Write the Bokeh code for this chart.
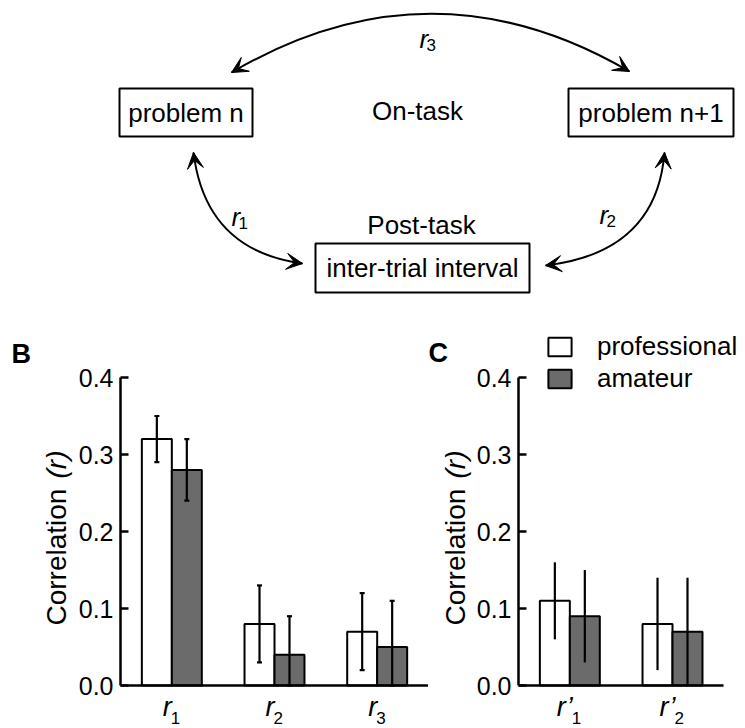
import math
from bokeh.plotting import figure
from bokeh.layouts import column, row
from bokeh.models import (Range1d, FixedTicker, NumeralTickFormatter,
                          Label, Legend, LegendItem, Arrow, VeeHead, ColumnDataSource)
from bokeh.transform import dodge
from bokeh.core.properties import value
from bokeh.embed import file_html
from bokeh.resources import INLINE

FONT = "Liberation Sans"

# ---------------- data ----------------
series_names = ["professional", "amateur"]
y_ticks = [0.0, 0.1, 0.2, 0.3, 0.4]

b_cats = ["r1", "r2", "r3"]
b_tick_base = ["r", "r", "r"]
b_tick_sub = ["1", "2", "3"]
b_prof = [0.32, 0.08, 0.07]
b_prof_lo = [0.29, 0.03, 0.02]
b_prof_hi = [0.35, 0.13, 0.12]
b_amat = [0.28, 0.04, 0.05]
b_amat_lo = [0.24, 0.00, 0.00]
b_amat_hi = [0.32, 0.09, 0.11]

c_cats = ["r'1", "r'2"]
c_tick_base = ["r\u2019", "r\u2019"]
c_tick_sub = ["1", "2"]
c_prof = [0.11, 0.08]
c_prof_lo = [0.06, 0.02]
c_prof_hi = [0.16, 0.14]
c_amat = [0.09, 0.07]
c_amat_lo = [0.03, 0.00]
c_amat_hi = [0.15, 0.14]

# diagram content
box_labels = ["problem n", "problem n+1", "inter-trial interval"]
phase_labels = ["On-task", "Post-task"]
link_base = ["r", "r", "r"]
link_sub = ["1", "2", "3"]

PROF_COLOR = "white"
AMAT_COLOR = "#6b6b6b"
BAR_W = 0.292
Y_LO, Y_HI = -0.0558, 0.5   # visible y span of the lower panels
PX = 770.0                  # pixels per correlation unit (layout only)


def ypos(canvas_y):
    """canvas pixel row (lower panels) -> data y, layout helper for labels"""
    return Y_HI - (canvas_y - 300) / PX


def panel(cats, prof, plo, phi, amat, alo, ahi, width, x_start, caps,
          letter, letter_x, letter_mid, ylab_x, tick_base, tick_sub, sub_dx,
          legend=False):
    n = len(cats)
    x_end = x_start + width / 102.67
    p = figure(width=width, height=428,
               x_range=Range1d(x_start, x_end), y_range=Range1d(Y_LO, Y_HI),
               output_backend="svg", toolbar_location=None, min_border=0)
    p.grid.visible = False
    p.outline_line_color = None
    xa_ = p.xaxis[0]
    xa_.fixed_location = 0
    xa_.bounds = (-0.5, n - 0.5)
    xa_.ticker = FixedTicker(ticks=[], minor_ticks=[])
    xa_.axis_line_width = 2.5
    xa_.axis_line_color = "black"
    xa_.major_tick_line_color = None
    xa_.minor_tick_line_color = None
    xa_.major_label_text_color = None
    ya = p.yaxis[0]
    ya.fixed_location = -0.5
    ya.bounds = (0, 0.4)
    ya.ticker = FixedTicker(ticks=y_ticks, minor_ticks=[])
    ya.formatter = NumeralTickFormatter(format="0.0")
    ya.axis_line_width = 2.5
    ya.axis_line_color = "black"
    ya.major_tick_line_width = 2.5
    ya.major_tick_line_color = "black"
    ya.major_tick_in = 8
    ya.major_tick_out = 0
    ya.minor_tick_line_color = None
    ya.major_label_standoff = 7
    ya.major_label_text_font = FONT
    ya.major_label_text_font_size = "25px"
    ya.major_label_text_color = "black"

    src = ColumnDataSource(dict(idx=list(range(n)), cat=cats, prof=prof, plo=plo,
                                phi=phi, amat=amat, alo=alo, ahi=ahi))
    xp = dodge("idx", -BAR_W / 2)
    xa = dodge("idx", BAR_W / 2)
    rp = p.vbar(x=xp, top="prof", bottom=0, width=BAR_W, source=src,
                fill_color=PROF_COLOR, line_color="black", line_width=2)
    ra = p.vbar(x=xa, top="amat", bottom=0, width=BAR_W, source=src,
                fill_color=AMAT_COLOR, line_color="black", line_width=2)
    for xx, lo, hi in ((xp, "plo", "phi"), (xa, "alo", "ahi")):
        p.segment(x0=xx, y0=lo, x1=xx, y1=hi, source=src,
                  line_color="black", line_width=2.2)
        if caps:
            p.scatter(x=xx, y=hi, source=src, marker="dash", size=5,
                      line_color="black", line_width=2.2)
            p.scatter(x=xx, y=lo, source=src, marker="dash", size=5,
                      line_color="black", line_width=2.2)
    # y axis label (upright word, italic symbol)
    p.add_layout(Label(x=ylab_x, y=ypos(625), x_units="screen", y_units="data",
                       text="Correlation", angle=math.pi / 2,
                       text_align="left", text_baseline="middle",
                       text_font=FONT, text_font_size="28px", text_color="black"))
    p.add_layout(Label(x=ylab_x, y=ypos(450), x_units="screen", y_units="data",
                       text="(r)", angle=math.pi / 2, text_font_style="italic",
                       text_align="right", text_baseline="middle",
                       text_font=FONT, text_font_size="28px", text_color="black"))
    # x tick labels with subscripts
    for i, (b, s) in enumerate(zip(tick_base, tick_sub)):
        p.add_layout(Label(x=i, y=ypos(706.5), x_offset=sub_dx,
                           text=b, text_font_style="italic",
                           text_align="right", text_baseline="middle",
                           text_font=FONT, text_font_size="27px", text_color="black"))
        p.add_layout(Label(x=i, y=ypos(717), x_offset=sub_dx - 1,
                           text=s, text_align="left", text_baseline="middle",
                           text_font=FONT, text_font_size="17px", text_color="black"))
    # panel letter
    p.add_layout(Label(x=letter_x, y=ypos(letter_mid), x_units="screen", y_units="data",
                       text=letter, text_font_style="bold",
                       text_align="left", text_baseline="middle",
                       text_font=FONT, text_font_size="27px", text_color="black"))
    if legend:
        lg = Legend(items=[LegendItem(label=series_names[0], renderers=[rp]),
                           LegendItem(label=series_names[1], renderers=[ra])],
                    location=(117, 334), glyph_width=29, glyph_height=23,
                    label_height=23, spacing=1, padding=0, margin=0,
                    label_standoff=23, border_line_color=None,
                    background_fill_alpha=0,
                    label_text_font=FONT, label_text_font_size="26px",
                    label_text_color="black", label_text_baseline="middle")
        p.add_layout(lg, "center")
    return p


pb = panel(b_cats, b_prof, b_prof_lo, b_prof_hi, b_amat, b_amat_lo, b_amat_hi,
           width=428, x_start=-0.5 - 120 / 102.67, caps=True, letter="B", letter_x=11,
           letter_mid=353.5, ylab_x=56, tick_base=b_tick_base, tick_sub=b_tick_sub,
           sub_dx=0)
pc = panel(c_cats, c_prof, c_prof_lo, c_prof_hi, c_amat, c_amat_lo, c_amat_hi,
           width=317, x_start=-0.5 - 90 / 102.67, caps=False, letter="C", letter_x=0,
           letter_mid=352.5, ylab_x=27, tick_base=c_tick_base, tick_sub=c_tick_sub,
           sub_dx=3, legend=True)

# ---------------- diagram (A) ----------------
d = figure(width=745, height=300, x_range=Range1d(0, 745), y_range=Range1d(300, 0),
           output_backend="svg", toolbar_location=None, min_border=0,
           x_axis_location=None, y_axis_location=None)
d.grid.visible = False
d.outline_line_color = None

box_l = [119, 568, 315]
box_r = [252, 733, 529]
box_t = [88, 88, 243]
box_b = [136, 136, 292]
d.quad(left=box_l, right=box_r, top=box_t, bottom=box_b,
       fill_color=None, line_color="black", line_width=2)
d.text(x=[(a + b) / 2 for a, b in zip(box_l, box_r)],
       y=[(a + b) / 2 for a, b in zip(box_t, box_b)],
       text=box_labels, text_align="center", text_baseline="middle",
       text_font=value(FONT), text_font_size="26px", text_color="black")
d.text(x=[417, 421], y=[110, 224], text=phase_labels,
       text_align="center", text_baseline="middle",
       text_font=value(FONT), text_font_size="26px", text_color="black")

# link labels r1, r2, r3 (positions = vertical centre of the glyph box)
lx = [231, 599, 419]
ly = [216, 214, 38]
d.text(x=lx, y=ly, text=link_base, text_font_style="italic",
       text_align="left", text_baseline="middle",
       text_font=value(FONT), text_font_size="26px", text_color="black")
d.text(x=[v + 7 for v in lx], y=[v + 6 for v in ly], text=link_sub,
       text_align="left", text_baseline="middle",
       text_font=value(FONT), text_font_size="17px", text_color="black")

# curved double-headed arrows: (start tip, end tip, control)
curves = [((231, 72), (629, 71), (430, -45)),
          ((193, 152), (302, 263), (205, 250)),
          ((664, 152), (545, 265), (656, 252))]
for (p0, p2, c) in curves:
    d.quadratic(x0=[p0[0]], y0=[p0[1]], x1=[p2[0]], y1=[p2[1]],
                cx=[c[0]], cy=[c[1]], line_color="black", line_width=2)
    for tip in (p0, p2):
        vx, vy = c[0] - tip[0], c[1] - tip[1]
        nn = math.hypot(vx, vy)
        sx, sy = tip[0] + vx / nn * 6, tip[1] + vy / nn * 6
        d.add_layout(Arrow(end=VeeHead(size=16, fill_color="black", line_color="black",
                                       line_width=1),
                           x_start=sx, y_start=sy, x_end=tip[0], y_end=tip[1],
                           line_color="black", line_width=2))

layout = column(d, row(pb, pc))
open("out.html", "w").write(file_html(layout, INLINE))
